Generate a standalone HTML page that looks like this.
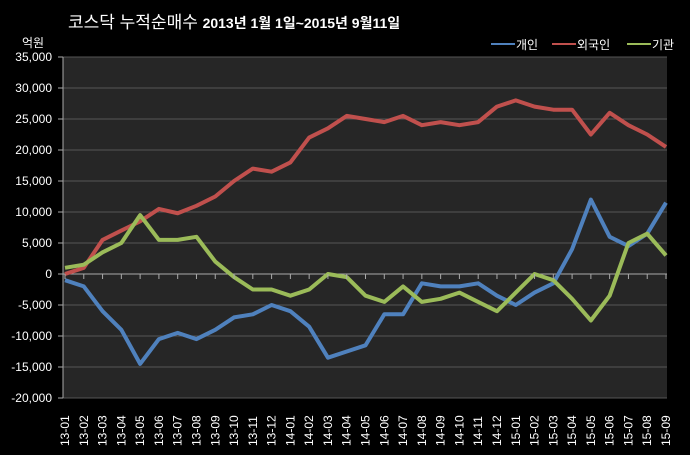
<!DOCTYPE html>
<html><head><meta charset="utf-8"><style>
body{margin:0;background:#000;width:690px;height:450px;overflow:hidden}
svg text{font-family:"Liberation Sans","Noto Sans CJK KR",sans-serif;fill:#fff}
</style></head><body>
<svg id="c" width="690" height="450">
<text x="68" y="28" font-size="17">코스닥  누적순매수 <tspan font-weight="bold" font-size="14">2013년 1월 1일~2015년 9월11일</tspan></text>
<text x="22" y="47" font-size="12">억원</text>
<g>
<g><line x1="491" y1="44" x2="515" y2="44" stroke="#4f81bd" stroke-width="2"/><text x="516" y="49" font-size="12">개인</text></g>
<g><line x1="552" y1="44" x2="576" y2="44" stroke="#c0504d" stroke-width="2"/><text x="577" y="49" font-size="12">외국인</text></g>
<g><line x1="627" y1="44" x2="651" y2="44" stroke="#9bbb59" stroke-width="2"/><text x="652" y="49" font-size="12">기관</text></g>
</g>
<rect x="63" y="57" width="604" height="341" fill="#262626"/>
<g id="grid"></g><g id="series"></g><g id="axes"></g>
</svg>
<script>
const months=["13-01","13-02","13-03","13-04","13-05","13-06","13-07","13-08","13-09","13-10","13-11","13-12","14-01","14-02","14-03","14-04","14-05","14-06","14-07","14-08","14-09","14-10","14-11","14-12","15-01","15-02","15-03","15-04","15-05","15-06","15-07","15-08","15-09"];
const yTicks=[35000,30000,25000,20000,15000,10000,5000,0,-5000,-10000,-15000,-20000];
const individual=[-1000,-2000,-6000,-9000,-14500,-10500,-9500,-10500,-9000,-7000,-6500,-5000,-6000,-8500,-13500,-12500,-11500,-6500,-6500,-1500,-2000,-2000,-1500,-3500,-5000,-3000,-1500,4000,12000,6000,4500,6500,11500];
const foreign=[0,1000,5500,7000,8500,10500,9800,11000,12500,15000,17000,16500,18000,22000,23500,25500,25000,24500,25500,24000,24500,24000,24500,27000,28000,27000,26500,26500,22500,26000,24000,22500,20500];
const institution=[1000,1500,3500,5000,9500,5500,5500,6000,2000,-500,-2500,-2500,-3500,-2500,0,-500,-3500,-4500,-2000,-4500,-4000,-3000,-4500,-6000,-3000,0,-1000,-4000,-7500,-3500,5000,6500,3000];
const NS="http://www.w3.org/2000/svg";
const x0=65,x1=666,yTop=57,yBot=398,vMax=35000,vMin=-20000;
const xs=i=>x0+(x1-x0)*i/(months.length-1);
const ys=v=>yTop+(vMax-v)/(vMax-vMin)*(yBot-yTop);
function mk(t,a,p){const e=document.createElementNS(NS,t);for(const k in a)e.setAttribute(k,a[k]);p.appendChild(e);return e;}
const grid=document.getElementById('grid'),axes=document.getElementById('axes'),ser=document.getElementById('series');
yTicks.forEach(v=>{
 const l=mk('line',{x1:63,x2:667,y1:ys(v),y2:ys(v),stroke:v===0?'#aaa':'#555','stroke-width':1},grid);
 
 
 const t=mk('text',{x:52,y:ys(v)+4,'text-anchor':'end','font-size':12},axes);
 t.textContent=v.toLocaleString('en-US');
 
 
 mk('line',{x1:58,x2:63,y1:ys(v),y2:ys(v),stroke:'#aaa'},axes);
});
mk('line',{x1:63,x2:63,y1:57,y2:398,stroke:'#aaa'},axes);
months.forEach((m,i)=>{
 const x=xs(i);
 mk('line',{x1:x,x2:x,y1:ys(0),y2:ys(0)+5,stroke:'#aaa'},axes);
 const t=mk('text',{x:0,y:0,'font-size':12,transform:`translate(${x+4},446) rotate(-90)`},axes);
 t.textContent=m;
 
 
});
[[individual,'#4f81bd','line-individual'],[foreign,'#c0504d','line-foreign'],[institution,'#9bbb59','line-institution']].forEach(([d,c,n])=>{
 const p=mk('polyline',{points:d.map((v,i)=>xs(i)+','+ys(v)).join(' '),fill:'none',stroke:c,'stroke-width':4,'stroke-linejoin':'round'},ser);
 
 
});
</script>
</body></html>
